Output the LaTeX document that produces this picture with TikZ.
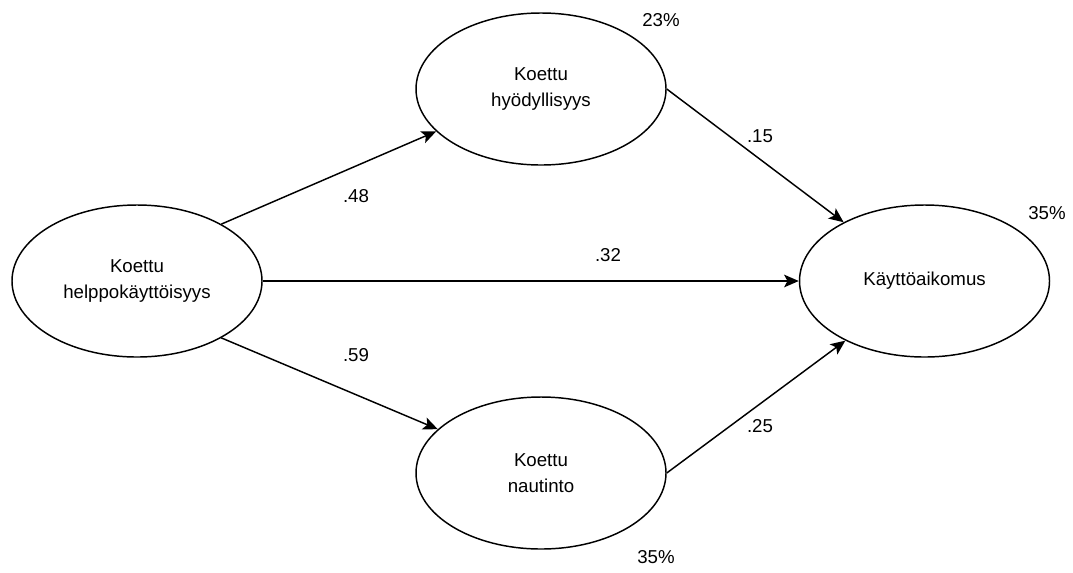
\documentclass[tikz,border=0pt]{standalone}
\usepackage{fontspec}
\setmainfont{Liberation Sans}
\usetikzlibrary{arrows.meta,shapes.geometric}
\tikzset{
  construct/.style={ellipse,draw,line width=1.1pt,minimum width=187.5pt,minimum height=114pt,inner sep=0pt,align=center,font=\fontsize{14}{20}\selectfont},
  path/.style={line width=1.1pt,-{Stealth[length=11pt,width=9.5pt,inset=2.5pt]}},
  coef/.style={font=\fontsize{14}{17}\selectfont}
}
\begin{document}
\begin{tikzpicture}[x=0.75pt,y=-0.75pt]
\useasboundingbox (0,0) rectangle (1073,572);
\node[construct] (ease) at (137,281) {Koettu\\helppokäyttöisyys};
\node[construct] (use) at (541,89) {Koettu\\hyödyllisyys};
\node[construct] (fun) at (541,473) {Koettu\\nautinto};
\node[construct] (intent) at (924.5,281) {Käyttöaikomus};
\draw[path] (ease.34) -- (use.202.5);
\draw[path] (ease.east) -- (intent.west);
\draw[path] (ease.326) -- (fun.157.5);
\draw[path] (use.east) -- (intent.144);
\draw[path] (fun.east) -- (intent.217);
\node[coef] (c1) at (356,196) {.48};
\node[coef] (c2) at (608,255) {.32};
\node[coef] (c3) at (356,355) {.59};
\node[coef] (c4) at (760,136) {.15};
\node[coef] (c5) at (760,426) {.25};
\node[coef] (r1) at (661,20) {23\%};
\node[coef] (r2) at (1047,213) {35\%};
\node[coef] (r3) at (656,557) {35\%};
\end{tikzpicture}
\end{document}
